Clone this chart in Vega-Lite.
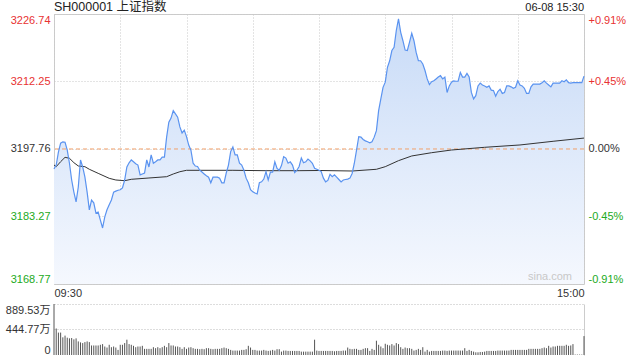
{
  "$schema": "https://vega.github.io/schema/vega-lite/v6.json",
  "background": "white",
  "padding": {"left": 5, "right": 5, "top": 0, "bottom": 3},
  "spacing": 4,
  "config": {
    "font": "Liberation Sans, Noto Sans CJK SC, sans-serif",
    "view": {"stroke": "#cccccc"},
    "axis": {"labelFont": "Liberation Sans, Noto Sans CJK SC, sans-serif", "labelFontSize": 11, "ticks": false, "domain": false, "title": null, "labelColor": "#333333"}
  },
  "datasets": {
    "price": [
      {"t":0,"p":3193.46},{"t":1,"p":3194.3},{"t":2,"p":3197.1},{"t":3,"p":3199.0},{"t":4,"p":3199.3},{"t":5,"p":3199.2},{"t":6,"p":3197.5},{"t":7,"p":3194.7},{"t":8,"p":3191.1},{"t":9,"p":3188.5},
      {"t":10,"p":3186.4},{"t":11,"p":3189.6},{"t":12,"p":3195.4},{"t":13,"p":3193.9},{"t":14,"p":3191.7},{"t":15,"p":3188.5},{"t":16,"p":3184.7},{"t":17,"p":3186.8},{"t":18,"p":3186.2},{"t":19,"p":3184.0},
      {"t":20,"p":3184.2},{"t":21,"p":3182.5},{"t":22,"p":3180.8},{"t":23,"p":3183.2},{"t":24,"p":3184.7},{"t":25,"p":3185.8},{"t":26,"p":3186.8},{"t":27,"p":3188.5},{"t":28,"p":3188.7},{"t":29,"p":3188.9},
      {"t":30,"p":3189.0},{"t":31,"p":3189.4},{"t":32,"p":3191.1},{"t":33,"p":3193.9},{"t":34,"p":3194.8},{"t":35,"p":3195.4},{"t":36,"p":3195.0},{"t":37,"p":3194.6},{"t":38,"p":3194.3},{"t":39,"p":3192.2},
      {"t":40,"p":3192.4},{"t":41,"p":3192.6},{"t":42,"p":3195.4},{"t":43,"p":3193.9},{"t":44,"p":3196.5},{"t":45,"p":3194.7},{"t":46,"p":3195.0},{"t":47,"p":3195.4},{"t":48,"p":3195.4},{"t":49,"p":3196.0},
      {"t":50,"p":3196.0},{"t":51,"p":3200.3},{"t":52,"p":3203.5},{"t":53,"p":3204.4},{"t":54,"p":3206.0},{"t":55,"p":3205.3},{"t":56,"p":3204.6},{"t":57,"p":3202.5},{"t":58,"p":3201.2},{"t":59,"p":3201.8},
      {"t":60,"p":3200.4},{"t":61,"p":3198.6},{"t":62,"p":3197.5},{"t":63,"p":3194.7},{"t":64,"p":3194.1},{"t":65,"p":3194.0},{"t":66,"p":3193.2},{"t":67,"p":3192.8},{"t":68,"p":3192.4},{"t":69,"p":3192.0},
      {"t":70,"p":3191.7},{"t":71,"p":3190.5},{"t":72,"p":3191.7},{"t":73,"p":3191.7},{"t":74,"p":3191.7},{"t":75,"p":3191.5},{"t":76,"p":3190.5},{"t":77,"p":3190.5},{"t":78,"p":3192.6},{"t":79,"p":3194.3},
      {"t":80,"p":3197.2},{"t":81,"p":3198.2},{"t":82,"p":3196.5},{"t":83,"p":3196.5},{"t":84,"p":3194.7},{"t":85,"p":3194.3},{"t":86,"p":3193.2},{"t":87,"p":3191.5},{"t":88,"p":3190.5},{"t":89,"p":3189.0},
      {"t":90,"p":3188.6},{"t":91,"p":3188.3},{"t":92,"p":3188.1},{"t":93,"p":3190.5},{"t":94,"p":3190.7},{"t":95,"p":3191.3},{"t":96,"p":3192.9},{"t":97,"p":3191.1},{"t":98,"p":3192.8},{"t":99,"p":3192.8},
      {"t":100,"p":3195.0},{"t":101,"p":3193.6},{"t":102,"p":3193.2},{"t":103,"p":3194.2},{"t":104,"p":3196.1},{"t":105,"p":3195.8},{"t":106,"p":3194.7},{"t":107,"p":3195.0},{"t":108,"p":3194.3},{"t":109,"p":3192.7},
      {"t":110,"p":3193.2},{"t":111,"p":3194.0},{"t":112,"p":3195.8},{"t":113,"p":3194.8},{"t":114,"p":3195.0},{"t":115,"p":3195.6},{"t":116,"p":3195.2},{"t":117,"p":3194.7},{"t":118,"p":3193.6},{"t":119,"p":3193.4},
      {"t":120,"p":3193.2},{"t":121,"p":3192.9},{"t":122,"p":3191.5},{"t":123,"p":3190.7},{"t":124,"p":3191.0},{"t":125,"p":3192.3},{"t":126,"p":3191.8},{"t":127,"p":3192.2},{"t":128,"p":3191.7},{"t":129,"p":3191.2},
      {"t":130,"p":3190.7},{"t":131,"p":3191.1},{"t":132,"p":3191.2},{"t":133,"p":3191.3},{"t":134,"p":3191.5},{"t":135,"p":3192.5},{"t":136,"p":3194.7},{"t":137,"p":3197.5},{"t":138,"p":3200.4},{"t":139,"p":3200.3},
      {"t":140,"p":3199.8},{"t":141,"p":3199.5},{"t":142,"p":3199.3},{"t":143,"p":3199.1},{"t":144,"p":3199.3},{"t":145,"p":3200.3},{"t":146,"p":3201.7},{"t":147,"p":3206.0},{"t":148,"p":3208.5},{"t":149,"p":3211.0},
      {"t":150,"p":3212.1},{"t":151,"p":3215.3},{"t":152,"p":3216.7},{"t":153,"p":3218.9},{"t":154,"p":3219.6},{"t":155,"p":3223.2},{"t":156,"p":3225.7},{"t":157,"p":3222.8},{"t":158,"p":3221.0},{"t":159,"p":3219.0},
      {"t":160,"p":3218.9},{"t":161,"p":3220.7},{"t":162,"p":3222.6},{"t":163,"p":3221.0},{"t":164,"p":3218.5},{"t":165,"p":3216.7},{"t":166,"p":3216.7},{"t":167,"p":3216.0},{"t":168,"p":3214.6},{"t":169,"p":3212.8},
      {"t":170,"p":3211.6},{"t":171,"p":3212.2},{"t":172,"p":3212.4},{"t":173,"p":3212.8},{"t":174,"p":3213.2},{"t":175,"p":3213.5},{"t":176,"p":3212.8},{"t":177,"p":3213.2},{"t":178,"p":3209.9},{"t":179,"p":3211.3},
      {"t":180,"p":3212.1},{"t":181,"p":3212.4},{"t":182,"p":3212.3},{"t":183,"p":3212.3},{"t":184,"p":3214.2},{"t":185,"p":3213.2},{"t":186,"p":3213.2},{"t":187,"p":3214.0},{"t":188,"p":3213.2},{"t":189,"p":3209.9},
      {"t":190,"p":3208.5},{"t":191,"p":3209.2},{"t":192,"p":3211.3},{"t":193,"p":3211.9},{"t":194,"p":3211.5},{"t":195,"p":3211.3},{"t":196,"p":3211.0},{"t":197,"p":3211.3},{"t":198,"p":3210.4},{"t":199,"p":3210.3},
      {"t":200,"p":3209.1},{"t":201,"p":3210.1},{"t":202,"p":3210.6},{"t":203,"p":3209.7},{"t":204,"p":3209.9},{"t":205,"p":3211.3},{"t":206,"p":3211.3},{"t":207,"p":3211.1},{"t":208,"p":3210.8},{"t":209,"p":3211.0},
      {"t":210,"p":3212.4},{"t":211,"p":3211.5},{"t":212,"p":3211.3},{"t":213,"p":3210.8},{"t":214,"p":3209.7},{"t":215,"p":3209.7},{"t":216,"p":3211.1},{"t":217,"p":3211.7},{"t":218,"p":3211.7},{"t":219,"p":3211.7},
      {"t":220,"p":3211.7},{"t":221,"p":3212.0},{"t":222,"p":3212.4},{"t":223,"p":3211.9},{"t":224,"p":3211.5},{"t":225,"p":3211.1},{"t":226,"p":3211.9},{"t":227,"p":3211.9},{"t":228,"p":3211.9},{"t":229,"p":3211.9},
      {"t":230,"p":3212.4},{"t":231,"p":3212.2},{"t":232,"p":3212.6},{"t":233,"p":3212.0},{"t":234,"p":3211.9},{"t":235,"p":3212.0},{"t":236,"p":3212.0},{"t":237,"p":3212.0},{"t":238,"p":3212.0},{"t":239,"p":3212.0},
      {"t":240,"p":3213.4}
    ],
    "avg": [
      {"t":0,"a":3194.32},{"t":1,"a":3193.96},{"t":3,"a":3195.03},{"t":5,"a":3195.97},{"t":7,"a":3195.76},{"t":9,"a":3194.82},{"t":11,"a":3194.11},{"t":14,"a":3193.96},{"t":16,"a":3193.4},{"t":20,"a":3192.53},
      {"t":25,"a":3191.46},{"t":28,"a":3191.1},{"t":32,"a":3190.95},{"t":35,"a":3191.25},{"t":43,"a":3191.53},{"t":51,"a":3191.81},{"t":54,"a":3192.39},{"t":57,"a":3192.88},{"t":60,"a":3193.18},{"t":66,"a":3193.18},
      {"t":81,"a":3193.18},{"t":96,"a":3193.1},{"t":111,"a":3193.1},{"t":120,"a":3193.14},{"t":135,"a":3193.03},{"t":146,"a":3193.4},{"t":150,"a":3193.96},{"t":156,"a":3195.25},{"t":162,"a":3196.26},{"t":171,"a":3196.96},
      {"t":180,"a":3197.54},{"t":195,"a":3198.12},{"t":211,"a":3198.62},{"t":226,"a":3199.41},{"t":240,"a":3200.1}
    ],
    "volume": [
      {"t":0,"v":889.53},{"t":1,"v":462},{"t":2,"v":391},{"t":3,"v":391},{"t":4,"v":308},{"t":5,"v":338},{"t":6,"v":302},{"t":7,"v":290},{"t":8,"v":296},{"t":9,"v":273},
      {"t":10,"v":290},{"t":11,"v":237},{"t":12,"v":220},{"t":13,"v":208},{"t":14,"v":225},{"t":15,"v":237},{"t":16,"v":225},{"t":17,"v":166},{"t":18,"v":166},{"t":19,"v":166},
      {"t":20,"v":166},{"t":21,"v":178},{"t":22,"v":190},{"t":23,"v":148},{"t":24,"v":130},{"t":25,"v":178},{"t":26,"v":136},{"t":27,"v":148},{"t":28,"v":130},{"t":29,"v":89},
      {"t":30,"v":178},{"t":31,"v":178},{"t":32,"v":208},{"t":33,"v":267},{"t":34,"v":190},{"t":35,"v":178},{"t":36,"v":160},{"t":37,"v":136},{"t":38,"v":148},{"t":39,"v":148},
      {"t":40,"v":160},{"t":41,"v":107},{"t":42,"v":107},{"t":43,"v":107},{"t":44,"v":107},{"t":45,"v":136},{"t":46,"v":119},{"t":47,"v":136},{"t":48,"v":119},{"t":49,"v":136},
      {"t":50,"v":160},{"t":51,"v":136},{"t":52,"v":208},{"t":53,"v":166},{"t":54,"v":166},{"t":55,"v":148},{"t":56,"v":148},{"t":57,"v":136},{"t":58,"v":107},{"t":59,"v":136},
      {"t":60,"v":107},{"t":61,"v":130},{"t":62,"v":136},{"t":63,"v":119},{"t":64,"v":107},{"t":65,"v":107},{"t":66,"v":101},{"t":67,"v":107},{"t":68,"v":101},{"t":69,"v":119},
      {"t":70,"v":119},{"t":71,"v":107},{"t":72,"v":101},{"t":73,"v":107},{"t":74,"v":107},{"t":75,"v":107},{"t":76,"v":119},{"t":77,"v":130},{"t":78,"v":119},{"t":79,"v":107},
      {"t":80,"v":89},{"t":81,"v":77},{"t":82,"v":77},{"t":83,"v":77},{"t":84,"v":77},{"t":85,"v":89},{"t":86,"v":89},{"t":87,"v":101},{"t":88,"v":160},{"t":89,"v":130},
      {"t":90,"v":89},{"t":91,"v":89},{"t":92,"v":77},{"t":93,"v":77},{"t":94,"v":77},{"t":95,"v":89},{"t":96,"v":77},{"t":97,"v":71},{"t":98,"v":77},{"t":99,"v":89},
      {"t":100,"v":77},{"t":101,"v":101},{"t":102,"v":101},{"t":103,"v":59},{"t":104,"v":77},{"t":105,"v":77},{"t":106,"v":71},{"t":107,"v":71},{"t":108,"v":71},{"t":109,"v":71},
      {"t":110,"v":71},{"t":111,"v":71},{"t":112,"v":59},{"t":113,"v":59},{"t":114,"v":59},{"t":115,"v":59},{"t":116,"v":59},{"t":117,"v":59},{"t":118,"v":267},{"t":119,"v":77},
      {"t":120,"v":71},{"t":121,"v":71},{"t":122,"v":71},{"t":123,"v":71},{"t":124,"v":71},{"t":125,"v":71},{"t":126,"v":71},{"t":127,"v":65},{"t":128,"v":71},{"t":129,"v":71},
      {"t":130,"v":71},{"t":131,"v":77},{"t":132,"v":77},{"t":133,"v":130},{"t":134,"v":107},{"t":135,"v":101},{"t":136,"v":107},{"t":137,"v":107},{"t":138,"v":89},{"t":139,"v":89},
      {"t":140,"v":107},{"t":141,"v":119},{"t":142,"v":119},{"t":143,"v":71},{"t":144,"v":107},{"t":145,"v":89},{"t":146,"v":249},{"t":147,"v":178},{"t":148,"v":148},{"t":149,"v":119},
      {"t":150,"v":196},{"t":151,"v":178},{"t":152,"v":166},{"t":153,"v":190},{"t":154,"v":166},{"t":155,"v":208},{"t":156,"v":190},{"t":157,"v":136},{"t":158,"v":107},{"t":159,"v":130},
      {"t":160,"v":119},{"t":161,"v":119},{"t":162,"v":107},{"t":163,"v":77},{"t":164,"v":89},{"t":165,"v":107},{"t":166,"v":89},{"t":167,"v":136},{"t":168,"v":59},{"t":169,"v":89},
      {"t":170,"v":59},{"t":171,"v":71},{"t":172,"v":71},{"t":173,"v":71},{"t":174,"v":71},{"t":175,"v":71},{"t":176,"v":77},{"t":177,"v":77},{"t":178,"v":71},{"t":179,"v":77},
      {"t":180,"v":77},{"t":181,"v":77},{"t":182,"v":77},{"t":183,"v":77},{"t":184,"v":77},{"t":185,"v":77},{"t":186,"v":119},{"t":187,"v":71},{"t":188,"v":89},{"t":189,"v":71},
      {"t":190,"v":59},{"t":191,"v":47},{"t":192,"v":47},{"t":193,"v":53},{"t":194,"v":53},{"t":195,"v":59},{"t":196,"v":71},{"t":197,"v":71},{"t":198,"v":71},{"t":199,"v":71},
      {"t":200,"v":71},{"t":201,"v":77},{"t":202,"v":77},{"t":203,"v":77},{"t":204,"v":77},{"t":205,"v":77},{"t":206,"v":77},{"t":207,"v":89},{"t":208,"v":89},{"t":209,"v":89},
      {"t":210,"v":89},{"t":211,"v":89},{"t":212,"v":89},{"t":213,"v":89},{"t":214,"v":89},{"t":215,"v":107},{"t":216,"v":107},{"t":217,"v":107},{"t":218,"v":107},{"t":219,"v":107},
      {"t":220,"v":107},{"t":221,"v":119},{"t":222,"v":130},{"t":223,"v":119},{"t":224,"v":160},{"t":225,"v":130},{"t":226,"v":148},{"t":227,"v":148},{"t":228,"v":160},{"t":229,"v":160},
      {"t":230,"v":160},{"t":231,"v":160},{"t":232,"v":178},{"t":233,"v":160},{"t":234,"v":166},{"t":235,"v":190},{"t":236,"v":8},{"t":237,"v":8},{"t":238,"v":8},{"t":239,"v":8},
      {"t":240,"v":330}
    ]
  },
  "vconcat": [
    {
      "width": 530,
      "height": 270,
      "layer": [
        {
          "data": {"name": "price"},
          "mark": {"type": "area", "color": {"gradient": "linear", "x1": 0, "y1": 0, "x2": 0, "y2": 1, "stops": [{"offset": 0, "color": "#c8dbf7"}, {"offset": 1, "color": "#f5f8fe"}]}},
          "encoding": {
            "x": {"field": "t", "type": "quantitative", "scale": {"domain": [0, 240], "nice": false},
              "axis": {"values": [0, 30, 60, 90, 120, 150, 180, 210, 240], "labelExpr": "datum.value == 0 ? '09:30' : datum.value == 240 ? '15:00' : ''", "labelFlush": true, "labelPadding": 3, "grid": true, "gridColor": "#c8c8c8", "gridDash": [1, 2]}},
            "y": {"field": "p", "type": "quantitative", "scale": {"domain": [3168.77, 3226.74], "nice": false, "zero": false},
              "axis": {"values": [3168.77, 3183.27, 3197.76, 3212.25, 3226.74], "format": ".2f", "labelFlush": true, "labelPadding": 4, "grid": true, "gridColor": "#c8c8c8", "gridDash": [1, 2],
                "labelColor": {"condition": [{"test": "datum.value > 3198", "value": "#e83232"}, {"test": "datum.value < 3197", "value": "#22aa22"}], "value": "#333333"}}},
            "y2": {"datum": 3168.77}
          }
        },
        {
          "data": {"values": [{"prev": 3197.76}]},
          "mark": {"type": "rule", "color": "#f2a06a", "strokeDash": [4, 3], "strokeWidth": 1},
          "encoding": {
            "y": {"field": "prev", "type": "quantitative",
              "axis": {"orient": "right", "values": [3168.77, 3183.27, 3197.76, 3212.25, 3226.74], "labelFlush": true, "labelPadding": 4, "grid": false,
                "labelExpr": "abs(datum.value - 3197.76) < 0.01 ? '0.00%' : (datum.value > 3197.76 ? '+' : '-') + format(abs(datum.value - 3197.76) / 3197.76 * 100, '.2f') + '%'",
                "labelColor": {"condition": [{"test": "datum.value > 3198", "value": "#e83232"}, {"test": "datum.value < 3197", "value": "#22aa22"}], "value": "#333333"}}}
          }
        },
        {
          "data": {"name": "avg"},
          "mark": {"type": "line", "color": "#333333", "strokeWidth": 1},
          "encoding": {
            "x": {"field": "t", "type": "quantitative"},
            "y": {"field": "a", "type": "quantitative", "axis": null}
          }
        },
        {
          "data": {"name": "price"},
          "mark": {"type": "line", "color": "#5a93f0", "strokeWidth": 1.2},
          "encoding": {
            "x": {"field": "t", "type": "quantitative"},
            "y": {"field": "p", "type": "quantitative", "axis": null}
          }
        },
        {
          "data": {"values": [{"label": "SH000001 上证指数"}]},
          "mark": {"type": "text", "align": "left", "baseline": "alphabetic", "dy": -3, "fontSize": 12.5, "color": "#222222"},
          "encoding": {
            "x": {"datum": 0},
            "y": {"datum": 3226.74, "axis": null},
            "text": {"field": "label"}
          }
        },
        {
          "data": {"values": [{"label": "06-08 15:30"}]},
          "mark": {"type": "text", "align": "right", "baseline": "alphabetic", "dy": -3, "fontSize": 11, "color": "#222222"},
          "encoding": {
            "x": {"datum": 240},
            "y": {"datum": 3226.74, "axis": null},
            "text": {"field": "label"}
          }
        },
        {
          "data": {"values": [{"label": "sina.com"}]},
          "mark": {"type": "text", "align": "right", "baseline": "bottom", "dx": -12, "dy": -2, "fontSize": 11, "color": "#c8c8c8"},
          "encoding": {
            "x": {"datum": 240},
            "y": {"datum": 3168.77, "axis": null},
            "text": {"field": "label"}
          }
        }
      ],
      "resolve": {"axis": {"y": "independent"}}
    },
    {
      "width": 530,
      "height": 51,
      "view": {"stroke": null},
      "layer": [
        {
          "data": {"name": "volume"},
          "mark": {"type": "rule", "color": "#555555", "strokeWidth": 1},
          "encoding": {
            "x": {"field": "t", "type": "quantitative", "scale": {"domain": [0, 240], "nice": false}, "axis": null},
            "y": {"field": "v", "type": "quantitative", "scale": {"domain": [0, 889.53], "nice": false},
              "axis": {"values": [0, 444.77, 889.53], "labelExpr": "datum.value == 0 ? '0' : format(datum.value, '.2f') + '万'", "labelFlush": true, "labelPadding": 4, "grid": true, "gridColor": "#bbbbbb", "gridDash": [1, 2],
                "gridOpacity": {"condition": {"test": "datum.value == 0", "value": 0}, "value": 1}}},
            "y2": {"datum": 0}
          }
        },
        {
          "data": {"values": [{"v": 0}]},
          "mark": {"type": "rule", "opacity": 0},
          "encoding": {
            "y": {"field": "v", "type": "quantitative", "axis": {"orient": "right", "labels": false, "grid": false, "domain": true, "domainColor": "#cccccc"}}
          }
        }
      ],
      "resolve": {"axis": {"y": "independent"}}
    }
  ]
}
